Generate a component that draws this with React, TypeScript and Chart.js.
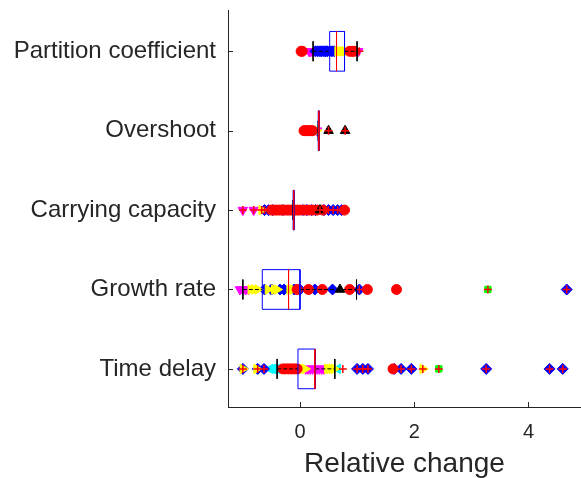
import React, { useEffect, useRef } from "react";
import { Chart, registerables } from "chart.js";

Chart.register(...registerables);

const categories = ["Partition coefficient", "Overshoot", "Carrying capacity", "Growth rate", "Time delay"];
const xTicks = [0, 2, 4];

// boxplot statistics per category
const q1 = [0.52, 0.32, -0.12, -0.66, -0.035];
const medians = [0.64, 0.33, -0.11, -0.2, 0.26];
const q3 = [0.78, 0.34, -0.1, 0.0, 0.27];
const whiskerLow = [0.23, 0.32, -0.12, -1.0, -0.4];
const whiskerHigh = [1.0, 0.34, -0.1, 0.99, 0.61];

// overlaid points, one list per category
const redCircles = [
  [0.02, 0.04, 0.87, 0.91, 0.95],
  [0.07, 0.1, 0.13, 0.16, 0.19, 0.22],
  [-0.5, -0.45, -0.4, -0.35, -0.3, -0.25, -0.2, -0.15, -0.1, -0.05, 0.0, 0.08, 0.15, 0.22, 0.3, 0.4, 0.78],
  [-0.05, 0.15, 0.39, 0.87, 1.18, 1.69],
  [-0.3, -0.25, -0.2, -0.15, -0.1, -0.05, 1.63],
];
const blueDiamonds = [
  [0.27, 0.31, 0.35, 0.38, 0.42, 0.45, 0.48, 0.52, 0.56, 0.6],
  [],
  [-0.62, -0.55, -0.48, -0.3, 0.05, 0.12, 0.2, 0.27, 0.42, 0.5, 0.58, 0.66, 0.73],
  [-0.62, -0.5, -0.35, -0.28, -0.1, 0.0, 0.26, 0.57, 1.04, 4.67],
  [-1.0, -0.74, -0.63, 1.0, 1.1, 1.19, 1.65, 1.77, 1.95, 3.26, 4.37, 4.6],
];
const magentaDown = [
  [0.16, 0.19, 0.22, 1.02],
  [0.3],
  [-1.0, -0.81],
  [-1.05, -1.0, -0.95, -0.9],
  [0.1, 0.14, 0.18, 0.22, 0.26, 0.3, 0.34, 0.38, 0.42],
];
const yellowRight = [
  [0.66, 0.7, 0.74, 0.78, 0.82],
  [0.25, 0.29],
  [-0.67, -0.03],
  [-0.86, -0.8, -0.74, -0.56, -0.45, -0.4, -0.18, -0.12],
  [-1.0, -0.76, 0.0, 0.05, 0.09, 0.48, 0.52, 0.56, 0.6, 2.15],
];
const cyanLeft = [
  [],
  [0.28],
  [-0.28],
  [-0.15],
  [-0.52, -0.48, -0.44, -0.4, 0.66],
];
const greenSquares = [
  [],
  [0.27],
  [-0.08],
  [-0.1, 3.29],
  [2.43],
];
const blackUp = [
  [],
  [0.5, 0.79],
  [0.35],
  [0.7],
  [],
];
const outliers = [
  [0.03, 1.04],
  [0.07, 0.12, 0.18, 0.22, 0.5, 0.79],
  [-1.0, -0.81, -0.67, -0.62, -0.55, -0.3, 0.05, 0.2, 0.35, 0.42, 0.5, 0.58, 0.66, 0.73, 0.8],
  [1.04, 1.18, 1.69, 3.29, 4.67],
  [-1.0, -0.74, -0.63, 0.75, 1.0, 1.1, 1.19, 1.63, 1.77, 1.95, 2.15, 2.43, 3.26, 4.37, 4.6],
];

const FONT = "'Liberation Sans', Arial, Helvetica, sans-serif";
const TXT = "#262626";
const BOX_H = 0.25;
const CAP_H = 0.125;

function pts(lists: number[][]) {
  const out: { x: number; y: number }[] = [];
  lists.forEach((vals, i) => vals.forEach((v) => out.push({ x: v, y: i + 1 })));
  return out;
}

function markers(lists: number[][], style: string, color: string, radius: number, order: number, rotation = 0, border = 1) {
  return {
    type: "scatter",
    data: pts(lists),
    pointStyle: style,
    pointRadius: radius,
    pointRotation: rotation,
    pointBackgroundColor: color,
    pointBorderColor: color,
    pointBorderWidth: border,
    showLine: false,
    order,
  };
}

function lineSet(data: { x: number; y: number }[], color: string, order: number, dash: number[] = []) {
  return {
    type: "scatter",
    data,
    showLine: true,
    borderColor: color,
    borderWidth: 1,
    borderDash: dash,
    pointRadius: 0,
    fill: false,
    order,
  };
}

const innerTicks = {
  id: "innerTicks",
  afterDatasetsDraw(chart: any) {
    const { ctx, chartArea, scales } = chart;
    ctx.save();
    ctx.strokeStyle = TXT;
    ctx.lineWidth = 1;
    ctx.beginPath();
    categories.forEach((_, i) => {
      const py = Math.round(scales.y.getPixelForValue(i + 1)) + 0.5;
      ctx.moveTo(chartArea.left, py);
      ctx.lineTo(chartArea.left + 5, py);
    });
    xTicks.forEach((v) => {
      const px = Math.round(scales.x.getPixelForValue(v)) + 0.5;
      ctx.moveTo(px, chartArea.bottom);
      ctx.lineTo(px, chartArea.bottom - 5);
    });
    ctx.stroke();
    ctx.restore();
  },
};

export default function App() {
  const ref = useRef<HTMLCanvasElement>(null);
  useEffect(() => {
    if (!ref.current) return;
    const datasets: any[] = [];
    categories.forEach((_, i) => {
      const y = i + 1;
      datasets.push(
        lineSet(
          [
            { x: q1[i], y: y - BOX_H },
            { x: q3[i], y: y - BOX_H },
            { x: q3[i], y: y + BOX_H },
            { x: q1[i], y: y + BOX_H },
            { x: q1[i], y: y - BOX_H },
          ],
          "#0000ff",
          1
        )
      );
      datasets.push(lineSet([{ x: medians[i], y: y - BOX_H }, { x: medians[i], y: y + BOX_H }], "#ff0000", 0));
      datasets.push(lineSet([{ x: whiskerLow[i], y }, { x: q1[i], y }], "#000000", 2, [4, 2]));
      datasets.push(lineSet([{ x: q3[i], y }, { x: whiskerHigh[i], y }], "#000000", 2, [4, 2]));
      datasets.push(lineSet([{ x: whiskerLow[i], y: y - CAP_H }, { x: whiskerLow[i], y: y + CAP_H }], "#000000", 2));
      datasets.push(lineSet([{ x: whiskerHigh[i], y: y - CAP_H }, { x: whiskerHigh[i], y: y + CAP_H }], "#000000", 2));
    });
    datasets.push(markers(outliers, "cross", "#ff0000", 4, 3, 0, 1.5));
    datasets.push(markers(blackUp, "triangle", "#000000", 5.5, 4));
    datasets.push(markers(redCircles, "circle", "#ff0000", 5, 5));
    datasets.push(markers(yellowRight, "triangle", "#ffff00", 5.5, 6, 90));
    datasets.push(markers(blueDiamonds, "rectRot", "#0000ff", 5.5, 7));
    datasets.push(markers(greenSquares, "rect", "#00ff00", 4.5, 8));
    datasets.push(markers(cyanLeft, "triangle", "#00ffff", 5.5, 9, -90));
    datasets.push(markers(magentaDown, "triangle", "#ff00ff", 5.5, 10, 180));

    const chart = new Chart(ref.current, {
      type: "scatter",
      data: { datasets },
      options: {
        animation: false,
        responsive: true,
        maintainAspectRatio: false,
        layout: { autoPadding: false, padding: { top: 10, right: 0, left: 0, bottom: 0 } },
        plugins: { legend: { display: false }, tooltip: { enabled: false } },
        scales: {
          x: {
            type: "linear",
            min: -1.26,
            max: 4.92,
            afterBuildTicks: (s: any) => {
              s.ticks = xTicks.map((v) => ({ value: v }));
            },
            afterFit: (s: any) => {
              s.height = 71;
              s.paddingLeft = 0;
              s.paddingRight = 0;
            },
            grid: { display: false, drawTicks: false },
            border: { display: true, color: TXT, width: 1 },
            ticks: { font: { family: FONT, size: 20 }, color: TXT, padding: 13, maxRotation: 0, autoSkip: false },
            title: {
              display: true,
              text: "Relative change",
              font: { family: FONT, size: 28, lineHeight: 1 },
              color: TXT,
              padding: { top: 0, bottom: 0 },
            },
          },
          y: {
            type: "linear",
            min: 0.48,
            max: 5.48,
            reverse: true,
            afterBuildTicks: (s: any) => {
              s.ticks = categories.map((_, i) => ({ value: i + 1 }));
            },
            afterFit: (s: any) => {
              s.width = 228;
              s.paddingTop = 0;
              s.paddingBottom = 0;
            },
            grid: { display: false, drawTicks: false },
            border: { display: true, color: TXT, width: 1 },
            ticks: {
              font: { family: FONT, size: 24 },
              color: TXT,
              padding: 12,
              autoSkip: false,
              callback: (v: any) => categories[Math.round(Number(v)) - 1] ?? "",
            },
          },
        },
      },
      plugins: [innerTicks],
    } as any);
    return () => chart.destroy();
  }, []);
  return (
    <div style={{ position: "absolute", left: 0, top: 0, width: 581, height: 478 }}>
      <canvas ref={ref} />
    </div>
  );
}
